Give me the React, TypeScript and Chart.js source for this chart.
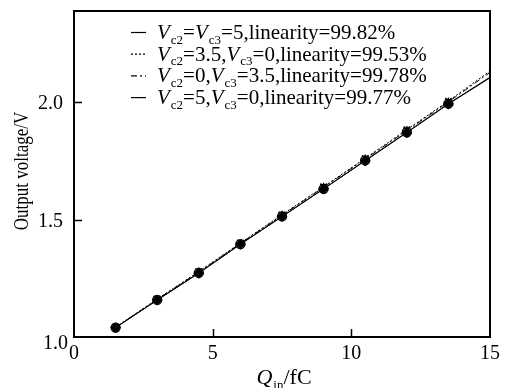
import { useEffect, useRef } from "react";
import { Chart, registerables } from "chart.js";

Chart.register(...registerables);

// ---- data ----
const qIn = [1.5, 3, 4.5, 6, 7.5, 9, 10.5, 12, 13.5, 15];
const vBoth5 = [1.04, 1.158, 1.273, 1.396, 1.514, 1.632, 1.753, 1.873, 1.995, 2.108];
const vC2_35 = [1.042, 1.162, 1.279, 1.401, 1.521, 1.641, 1.762, 1.884, 2.006, 2.134];
const vC3_35 = [1.041, 1.16, 1.277, 1.399, 1.519, 1.638, 1.759, 1.88, 2.002, 2.128];
const vC2_5 = [1.04, 1.157, 1.272, 1.395, 1.513, 1.631, 1.751, 1.871, 1.993, 2.105];
const xTicks = [0, 5, 10, 15];
const yTicks = [1.0, 1.5, 2.0];
const legendTexts = [
  ["=", "=5,linearity=99.82%"],
  ["=3.5,", "=0,linearity=99.53%"],
  ["=0,", "=3.5,linearity=99.78%"],
  ["=5,", "=0,linearity=99.77%"],
];

const FONT = '"Liberation Serif", "Times New Roman", serif';
const DASHES: number[][] = [[], [2, 2], [6, 3, 2, 3], []];
const MARKERS = ["circle", "crossRot", "star", "rectRot"];

const decor = {
  id: "decor",
  afterDraw(chart: any) {
    const ctx = chart.ctx as CanvasRenderingContext2D;
    const { left, right, top, bottom } = chart.chartArea;
    const xs = chart.scales.x;
    const ys = chart.scales.y;
    ctx.save();
    // frame
    ctx.strokeStyle = "#000";
    ctx.lineWidth = 2;
    ctx.setLineDash([]);
    ctx.strokeRect(left, top, right - left, bottom - top);
    // inward ticks
    ctx.lineWidth = 1.5;
    ctx.beginPath();
    xTicks.forEach((t) => {
      if (t === xs.min || t === xs.max) return;
      const px = Math.round(xs.getPixelForValue(t)) + 0.5;
      ctx.moveTo(px, bottom);
      ctx.lineTo(px, bottom - 8);
    });
    yTicks.forEach((t) => {
      if (t === ys.min) return;
      const py = Math.round(ys.getPixelForValue(t)) + 0.5;
      ctx.moveTo(left, py);
      ctx.lineTo(left + 8, py);
    });
    ctx.stroke();
    // tick labels
    ctx.fillStyle = "#000";
    ctx.font = `20px ${FONT}`;
    ctx.textAlign = "center";
    ctx.textBaseline = "alphabetic";
    xTicks.forEach((t) => {
      ctx.fillText(String(t), xs.getPixelForValue(t), bottom + 22);
    });
    ctx.textAlign = "right";
    yTicks.forEach((t) => {
      const py = ys.getPixelForValue(t);
      if (t === ys.min) ctx.fillText(t.toFixed(1), left - 6, py + 12);
      else ctx.fillText(t.toFixed(1), left - 11, py + 7);
    });
    // y title
    ctx.save();
    ctx.translate(28, 171);
    ctx.rotate(-Math.PI / 2);
    ctx.scale(0.81, 1);
    ctx.textAlign = "center";
    ctx.font = `21px ${FONT}`;
    ctx.fillText("Output voltage/V", 0, 0);
    ctx.restore();
    // x title: Q_in/fC
    {
      const segs: [string, string][] = [["Q", "i"], ["in", "s"], ["/fC", "n"]];
      const total = measureRich(ctx, segs, 22);
      drawRich(ctx, (left + right) / 2 - total / 2 + 2, 384, segs, 22);
    }
    // legend
    const lx0 = 131, lx1 = 146, tx = 157;
    legendTexts.forEach((lt, i) => {
      const by = 39 + i * 21.7;
      ctx.setLineDash(DASHES[i]);
      ctx.lineWidth = 1.2;
      ctx.beginPath();
      ctx.moveTo(lx0, by - 6.5);
      ctx.lineTo(lx1, by - 6.5);
      ctx.stroke();
      ctx.setLineDash([]);
      const segs: [string, string][] = [
        ["V", "i"], ["c2", "s"], [lt[0], "n"], ["V", "i"], ["c3", "s"], [lt[1], "n"],
      ];
      drawRich(ctx, tx, by, segs, 21);
    });
    ctx.restore();
  },
};

function setFont(ctx: CanvasRenderingContext2D, kind: string, size: number) {
  if (kind === "i") ctx.font = `italic ${size}px ${FONT}`;
  else if (kind === "s") ctx.font = `${Math.round(size * 0.6)}px ${FONT}`;
  else ctx.font = `${size}px ${FONT}`;
}

function measureRich(ctx: CanvasRenderingContext2D, segs: [string, string][], size: number) {
  let w = 0;
  segs.forEach(([t, k]) => {
    setFont(ctx, k, size);
    w += ctx.measureText(t).width + (k === "i" ? 1 : 0);
  });
  return w;
}

function drawRich(ctx: CanvasRenderingContext2D, x: number, y: number, segs: [string, string][], size: number) {
  ctx.textAlign = "left";
  ctx.textBaseline = "alphabetic";
  let cx = x;
  segs.forEach(([t, k]) => {
    setFont(ctx, k, size);
    const dy = k === "s" ? size * 0.22 : 0;
    ctx.fillText(t, cx, y + dy);
    cx += ctx.measureText(t).width + (k === "i" ? 1 : 0);
  });
}

export default function App() {
  const ref = useRef<HTMLCanvasElement>(null);
  useEffect(() => {
    const series = [vBoth5, vC2_35, vC3_35, vC2_5];
    const radii = qIn.map((_, i) => (i === qIn.length - 1 ? 0 : 4.5));
    const chart = new Chart(ref.current as HTMLCanvasElement, {
      type: "scatter",
      data: {
        datasets: series.map((s, i) => ({
          data: qIn.map((x, j) => ({ x, y: s[j] })),
          showLine: true,
          borderColor: "#000",
          backgroundColor: "#000",
          borderWidth: 1,
          borderDash: DASHES[i],
          pointStyle: MARKERS[i] as any,
          pointRadius: radii,
          pointBorderWidth: 1.3,
          pointBackgroundColor: i === 0 ? "rgba(0,0,0,0)" : "#000",
          pointBorderColor: "#000",
        })),
      },
      options: {
        animation: false,
        responsive: false,
        maintainAspectRatio: false,
        layout: { padding: { left: 74, right: 16, top: 11, bottom: 51 } },
        scales: {
          x: { type: "linear", min: 0, max: 15, display: false },
          y: { type: "linear", min: 1.0, max: 2.39, display: false },
        },
        plugins: { legend: { display: false }, tooltip: { enabled: false } },
      },
      plugins: [decor],
    });
    return () => chart.destroy();
  }, []);
  return (
    <div style={{ position: "fixed", left: 0, top: 0, width: 506, height: 388, background: "#fff" }}>
      <canvas ref={ref} width={506} height={388} style={{ width: 506, height: 388, display: "block" }} />
    </div>
  );
}
